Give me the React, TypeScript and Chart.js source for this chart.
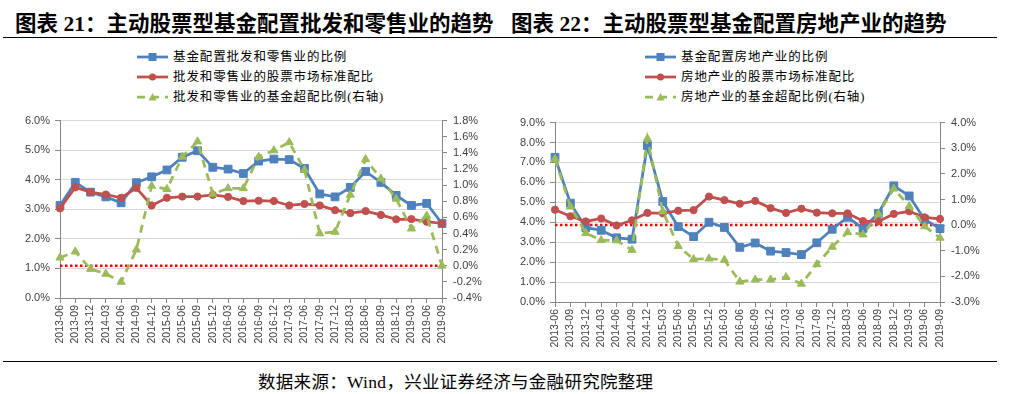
import React, { useEffect, useRef } from "react";
import { Chart, registerables } from "chart.js";

Chart.register(...registerables);

// ---------- data ----------
const categories = [
  "2013-06", "2013-09", "2013-12", "2014-03", "2014-06", "2014-09", "2014-12",
  "2015-03", "2015-06", "2015-09", "2015-12", "2016-03", "2016-06", "2016-09",
  "2016-12", "2017-03", "2017-06", "2017-09", "2017-12", "2018-03", "2018-06",
  "2018-09", "2018-12", "2019-03", "2019-06", "2019-09",
];

// Chart 21: wholesale & retail
const retailFundShare = [3.13, 3.91, 3.58, 3.42, 3.22, 3.9, 4.1, 4.33, 4.76, 4.98, 4.42, 4.36, 4.21, 4.63, 4.7, 4.68, 4.38, 3.52, 3.42, 3.74, 4.28, 3.91, 3.47, 3.13, 3.2, 2.52];
const retailMarketShare = [3.03, 3.74, 3.58, 3.5, 3.39, 3.72, 3.13, 3.39, 3.43, 3.43, 3.49, 3.42, 3.28, 3.29, 3.28, 3.13, 3.18, 3.13, 2.97, 2.87, 2.94, 2.81, 2.66, 2.67, 2.58, 2.52];
const retailOverweight = [0.1, 0.175, -0.04, -0.1, -0.2, 0.2, 0.99, 0.95, 1.35, 1.54, 0.89, 0.96, 0.96, 1.35, 1.43, 1.53, 1.19, 0.4, 0.42, 0.88, 1.32, 1.08, 0.83, 0.46, 0.62, 0.0];

// Chart 22: real estate
const estateFundShare = [7.26, 4.96, 3.73, 3.6, 3.22, 3.15, 7.85, 5.04, 3.78, 3.28, 4.0, 3.74, 2.74, 2.96, 2.55, 2.48, 2.38, 2.97, 3.65, 4.25, 3.69, 4.45, 5.83, 5.32, 4.14, 3.68];
const estateMarketShare = [4.63, 4.3, 4.04, 4.19, 3.84, 4.1, 4.47, 4.45, 4.58, 4.61, 5.29, 5.11, 4.93, 5.07, 4.71, 4.47, 4.68, 4.48, 4.45, 4.45, 4.06, 4.04, 4.42, 4.55, 4.25, 4.17];
const estateOverweight = [2.58, 0.72, -0.31, -0.59, -0.6, -0.97, 3.37, 0.53, -0.82, -1.33, -1.31, -1.36, -2.21, -2.13, -2.13, -2.03, -2.29, -1.53, -0.85, -0.28, -0.37, 0.44, 1.42, 0.74, -0.05, -0.5];

// axis ranges (percent): min, max, step
const retailLeftAxis = [0, 6, 1];
const retailRightAxis = [-0.4, 1.8, 0.2];
const estateLeftAxis = [0, 9, 1];
const estateRightAxis = [-3, 4, 1];
const referenceValue = 0; // right-axis zero line

const retailLabels = ["基金配置批发和零售业的比例", "批发和零售业的股票市场标准配比", "批发和零售业的基金超配比例(右轴)"];
const estateLabels = ["基金配置房地产业的比例", "房地产业的股票市场标准配比", "房地产业的基金超配比例(右轴)"];

// ---------- styles ----------
const BLUE = "#4F81BD";
const RED = "#C0504D";
const GREEN = "#9BBB59";
const AXIS = "#868686";
const GRID = "#D9D9D9";
const TICK_TEXT = "#404040";
const TICK_FONT = { family: '"Liberation Sans", Arial, sans-serif', size: 11 };

const fmt = (v: number | string) => {
  const n = Number(v);
  const x = Math.abs(n) < 1e-9 ? 0 : n;
  return x.toFixed(1) + "%";
};

const refLinePlugin = {
  id: "refLine",
  beforeDatasetsDraw(chart: any, _args: any, opts: any) {
    const scale = chart.scales.y1;
    if (!scale) return;
    const y = scale.getPixelForValue(opts.value);
    const { left, right } = chart.chartArea;
    const ctx = chart.ctx;
    ctx.save();
    ctx.strokeStyle = "#FF0000";
    ctx.lineWidth = 2.5;
    ctx.setLineDash([2.5, 2.5]);
    ctx.beginPath();
    ctx.moveTo(left, y);
    ctx.lineTo(right, y);
    ctx.stroke();
    ctx.restore();
  },
};

type ChartProps = {
  left: number;
  top: number;
  width: number;
  height: number;
  leftAxisWidth: number;
  rightAxisWidth: number;
  fund: number[];
  market: number[];
  over: number[];
  labels: string[];
  leftAxis: number[];
  rightAxis: number[];
};

function LineChart(p: ChartProps) {
  const ref = useRef<HTMLCanvasElement | null>(null);
  useEffect(() => {
    if (!ref.current) return;
    const chart = new Chart(ref.current, {
      type: "line",
      data: {
        labels: categories,
        datasets: [
          {
            label: p.labels[2],
            data: p.over,
            yAxisID: "y1",
            borderColor: GREEN,
            backgroundColor: GREEN,
            borderWidth: 2.75,
            borderDash: [8, 6],
            pointStyle: "triangle",
            pointRadius: 4.7,
            pointBorderWidth: 1,
            order: 0,
          },
          {
            label: p.labels[1],
            data: p.market,
            yAxisID: "y",
            borderColor: RED,
            backgroundColor: RED,
            borderWidth: 2.75,
            pointStyle: "circle",
            pointRadius: 3.6,
            pointBorderWidth: 1,
            order: 1,
          },
          {
            label: p.labels[0],
            data: p.fund,
            yAxisID: "y",
            borderColor: BLUE,
            backgroundColor: BLUE,
            borderWidth: 2.75,
            pointStyle: "rect",
            pointRadius: 5.5,
            pointBorderWidth: 1,
            order: 2,
          },
        ],
      },
      options: {
        animation: false,
        responsive: false,
        maintainAspectRatio: false,
        layout: { padding: { top: 10, left: 0, right: 0, bottom: 0 } },
        elements: { line: { tension: 0 } },
        plugins: {
          legend: { display: false },
          tooltip: { enabled: false },
          refLine: { value: referenceValue },
        } as any,
        scales: {
          x: {
            type: "category",
            offset: false,
            grid: { drawOnChartArea: false, drawTicks: true, tickLength: 5, tickColor: AXIS },
            border: { color: AXIS, width: 1 },
            ticks: {
              autoSkip: false,
              maxRotation: 90,
              minRotation: 90,
              padding: 2,
              color: TICK_TEXT,
              font: { ...TICK_FONT, size: 10.5 },
            },
            afterFit: (s: any) => {
              s.height = 45;
            },
          },
          y: {
            position: "left",
            min: p.leftAxis[0],
            max: p.leftAxis[1],
            grid: { color: GRID, lineWidth: 1, drawTicks: true, tickLength: 5, tickColor: AXIS },
            border: { color: AXIS, width: 1 },
            ticks: {
              stepSize: p.leftAxis[2],
              autoSkip: false,
              callback: fmt,
              padding: 5,
              color: TICK_TEXT,
              font: TICK_FONT,
            },
            afterFit: (s: any) => {
              s.width = p.leftAxisWidth;
            },
          },
          y1: {
            position: "right",
            min: p.rightAxis[0],
            max: p.rightAxis[1],
            grid: { drawOnChartArea: false, drawTicks: true, tickLength: 5, tickColor: AXIS },
            border: { color: AXIS, width: 1 },
            ticks: {
              stepSize: p.rightAxis[2],
              autoSkip: false,
              callback: fmt,
              padding: 6,
              color: TICK_TEXT,
              font: TICK_FONT,
            },
            afterFit: (s: any) => {
              s.width = p.rightAxisWidth;
            },
          },
        },
      } as any,
      plugins: [refLinePlugin],
    });
    return () => chart.destroy();
  }, []);
  return (
    <canvas
      ref={ref}
      width={p.width}
      height={p.height}
      style={{ position: "absolute", left: p.left, top: p.top, width: p.width, height: p.height }}
    />
  );
}

function LegendIcon({ kind }: { kind: number }) {
  if (kind === 0) {
    return (
      <svg width={31} height={10} style={{ display: "block" }}>
        <line x1={0} y1={5} x2={31} y2={5} stroke={BLUE} strokeWidth={2.75} />
        <rect x={11.5} y={1} width={8} height={8} fill={BLUE} />
      </svg>
    );
  }
  if (kind === 1) {
    return (
      <svg width={31} height={10} style={{ display: "block" }}>
        <line x1={0} y1={5} x2={31} y2={5} stroke={RED} strokeWidth={2.75} />
        <circle cx={15.5} cy={5} r={3.6} fill={RED} />
      </svg>
    );
  }
  return (
    <svg width={31} height={10} style={{ display: "block" }}>
      <line x1={0} y1={5} x2={31} y2={5} stroke={GREEN} strokeWidth={2.75} strokeDasharray="8 6" />
      <polygon points="15.5,1 19.5,8.5 11.5,8.5" fill={GREEN} />
    </svg>
  );
}

function Legend({ left, labels }: { left: number; labels: string[] }) {
  return (
    <div style={{ position: "absolute", left, top: 47 }}>
      {labels.map((t, i) => (
        <div key={i} style={{ display: "flex", alignItems: "center", height: 20 }}>
          <LegendIcon kind={i} />
          <span
            style={{
              marginLeft: 5,
              fontFamily: '"Liberation Serif", "Noto Sans CJK SC", serif',
              fontSize: 12.5,
              letterSpacing: 0.9,
              color: "#000",
              whiteSpace: "nowrap",
              lineHeight: "20px",
            }}
          >
            {t}
          </span>
        </div>
      ))}
    </div>
  );
}

const titleStyle: React.CSSProperties = {
  position: "absolute",
  top: 10,
  fontFamily: '"Liberation Serif", "Noto Sans CJK SC", serif',
  fontWeight: 700,
  fontSize: 21.5,
  lineHeight: "28px",
  whiteSpace: "nowrap",
  color: "#000",
};

export default function App() {
  return (
    <div
      style={{
        position: "absolute",
        left: 0,
        top: 0,
        width: 1015,
        height: 394,
        background: "#fff",
        overflow: "hidden",
      }}
    >
      <div style={{ ...titleStyle, left: 15 }}>图表 21：主动股票型基金配置批发和零售业的趋势</div>
      <div style={{ ...titleStyle, left: 511 }}>图表 22：主动股票型基金配置房地产业的趋势</div>
      <div style={{ position: "absolute", left: 3, top: 37, width: 994, height: 0, borderTop: "1.5px solid #000" }} />

      <Legend left={137} labels={retailLabels} />
      <Legend left={645} labels={estateLabels} />

      <LineChart
        left={0}
        top={108}
        width={505}
        height={235}
        leftAxisWidth={60}
        rightAxisWidth={63}
        fund={retailFundShare}
        market={retailMarketShare}
        over={retailOverweight}
        labels={retailLabels}
        leftAxis={retailLeftAxis}
        rightAxis={retailRightAxis}
      />
      <LineChart
        left={505}
        top={110}
        width={510}
        height={237}
        leftAxisWidth={50}
        rightAxisWidth={75}
        fund={estateFundShare}
        market={estateMarketShare}
        over={estateOverweight}
        labels={estateLabels}
        leftAxis={estateLeftAxis}
        rightAxis={estateRightAxis}
      />

      <div style={{ position: "absolute", left: 3, top: 361, width: 994, height: 0, borderTop: "1.5px solid #000" }} />
      <div
        style={{
          position: "absolute",
          left: 258,
          top: 371,
          fontFamily: '"Liberation Serif", "Noto Sans CJK SC", serif',
          fontSize: 17.5,
          letterSpacing: 0.3,
          lineHeight: "22px",
          whiteSpace: "nowrap",
          color: "#000",
        }}
      >
        数据来源：Wind，兴业证券经济与金融研究院整理
      </div>
    </div>
  );
}
